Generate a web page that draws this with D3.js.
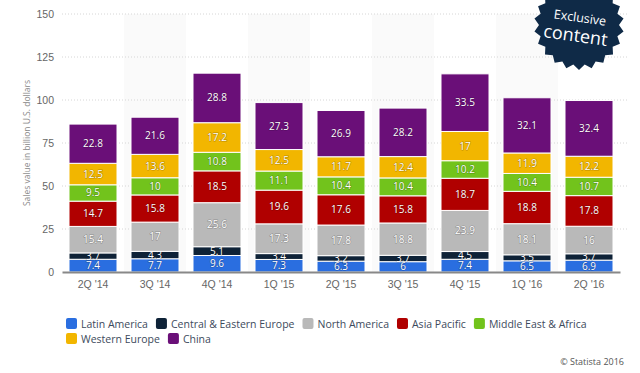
<!DOCTYPE html>
<html>
<head>
<meta charset="utf-8">
<script src="https://cdn.jsdelivr.net/npm/d3@7"></script>
<style>
    body { margin: 0; background: #fff; }
    svg { font-family: "Open Sans", "DejaVu Sans", sans-serif; }
    .tick text { fill: #666; font-size: 10.5px; }
    .seg-label { fill: #fff; font-size: 10px; text-anchor: middle; paint-order: stroke; stroke: rgba(0,0,0,0.25); stroke-width: 1.2px; }
    .legend text { fill: #3d4a5c; font-size: 10.5px; }
</style>
</head>
<body>
<script>
    var quarters = ["2Q '14", "3Q '14", "4Q '14", "1Q '15", "2Q '15", "3Q '15", "4Q '15", "1Q '16", "2Q '16"];
    var regions = ["Latin America", "Central & Eastern Europe", "North America", "Asia Pacific",
                   "Middle East & Africa", "Western Europe", "China"];
    var latinAmerica   = [7.4, 7.7, 9.6, 7.3, 6.3, 6, 7.4, 6.5, 6.9];
    var centralEastEu  = [3.7, 4.3, 5.1, 3.4, 3.2, 3.7, 4.5, 3.5, 3.7];
    var northAmerica   = [15.4, 17, 25.6, 17.3, 17.8, 18.8, 23.9, 18.1, 16];
    var asiaPacific    = [14.7, 15.8, 18.5, 19.6, 17.6, 15.8, 18.7, 18.8, 17.8];
    var middleEastAfr  = [9.5, 10, 10.8, 11.1, 10.4, 10.4, 10.2, 10.4, 10.7];
    var westernEurope  = [12.5, 13.6, 17.2, 12.5, 11.7, 12.4, 17, 11.9, 12.2];
    var china          = [22.8, 21.6, 28.8, 27.3, 26.9, 28.2, 33.5, 32.1, 32.4];
    var yTicks = [0, 25, 50, 75, 100, 125, 150];

    var series = [latinAmerica, centralEastEu, northAmerica, asiaPacific, middleEastAfr, westernEurope, china];
    var colors = ["#2a6ee0", "#0e2237", "#b9b9b9", "#b00000", "#72c31c", "#f2b600", "#6a0f78"];

    var w = 640, h = 373,
        plotL = 62, plotR = 620, plotT = 14, plotB = 272;

    // rows for d3.stack
    var rows = quarters.map(function (q, i) {
        var r = { q: q };
        regions.forEach(function (k, j) { r[k] = series[j][i]; });
        return r;
    });
    var stacked = d3.stack().keys(regions)(rows);

    var svg = d3.select("body").append("svg")
        .attr("width", w)
        .attr("height", h);

    var x = d3.scaleBand().domain(quarters).range([plotL, plotR]);
    var y = d3.scaleLinear().domain([0, 150]).range([plotB, plotT]);

    // alternating column shading
    svg.selectAll("rect.band")
        .data(quarters.filter(function (d, i) { return i % 2 === 1; }))
        .enter().append("rect")
        .attr("x", function (d) { return x(d); })
        .attr("y", plotT)
        .attr("width", x.bandwidth())
        .attr("height", plotB - plotT)
        .attr("fill", "#fafafa");

    // grid
    svg.selectAll("line.grid")
        .data(yTicks.slice(1))
        .enter().append("line")
        .attr("x1", plotL).attr("x2", 628)
        .attr("y1", function (d) { return y(d); })
        .attr("y2", function (d) { return y(d); })
        .attr("stroke", "#d6d6d6")
        .attr("stroke-dasharray", "1,2");

    // y axis
    var yAxis = svg.append("g")
        .attr("transform", "translate(" + (plotL - 8) + ",0)")
        .call(d3.axisLeft(y).tickValues(yTicks).tickSize(0).tickPadding(0));
    yAxis.select(".domain").remove();

    svg.append("text")
        .attr("transform", "translate(30," + ((plotT + plotB) / 2) + ") rotate(-90)")
        .attr("text-anchor", "middle")
        .attr("fill", "#888")
        .attr("font-size", "8.5px")
        .text("Sales value in billion U.S. dollars");

    // bars
    var barW = 48;
    var layer = svg.selectAll("g.layer")
        .data(stacked)
        .enter().append("g")
        .attr("fill", function (d, i) { return colors[i]; });

    layer.selectAll("rect")
        .data(function (d) { return d; })
        .enter().append("rect")
        .attr("x", function (d) { return x(d.data.q) + (x.bandwidth() - barW) / 2; })
        .attr("y", function (d) { return y(d[1]); })
        .attr("width", barW)
        .attr("height", function (d) { return y(d[0]) - y(d[1]); })
        .attr("stroke", "#fff")
        .attr("stroke-width", 1);

    layer.selectAll("text")
        .data(function (d) { return d.map(function (p) { p.key = d.key; return p; }); })
        .enter().append("text")
        .attr("class", "seg-label")
        .attr("x", function (d) { return x(d.data.q) + x.bandwidth() / 2; })
        .attr("y", function (d) { return (y(d[0]) + y(d[1])) / 2 + 3.5; })
        .text(function (d) { return d.data[d.key]; });

    // x axis
    var xAxis = svg.append("g")
        .attr("transform", "translate(0," + plotB + ")")
        .call(d3.axisBottom(x).tickSize(0).tickPadding(9));
    xAxis.select(".domain").attr("stroke", "#888").attr("stroke-width", 2);

    // legend: flow layout, 5 items on first row
    var legend = svg.selectAll("g.legend")
        .data(regions)
        .enter().append("g")
        .attr("class", "legend");
    legend.append("rect")
        .attr("x", 0).attr("y", -6)
        .attr("width", 11).attr("height", 11)
        .attr("rx", 2)
        .attr("fill", function (d, i) { return colors[i]; });
    legend.append("text")
        .attr("x", 15).attr("y", 4)
        .text(function (d) { return d; });
    var lx = 66, ly = 324;
    legend.each(function (d, i) {
        if (i === 5) { lx = 66; ly = 339; }
        d3.select(this).attr("transform", "translate(" + lx + "," + ly + ")");
        lx += 15 + this.querySelector("text").getComputedTextLength() + 8;
    });

    svg.append("text")
        .attr("x", 624).attr("y", 365)
        .attr("text-anchor", "end")
        .attr("fill", "#555")
        .attr("font-size", "9px")
        .text("\u00a9 Statista 2016");

    // badge
    var pts = [], n = 22, cx = 579, cy = 25;
    for (var i = 0; i < n * 2; i++) {
        var r = i % 2 === 0 ? 45 : 40;
        var a = Math.PI * i / n + Math.PI / 2;
        pts.push([cx + r * Math.cos(a), cy + r * Math.sin(a)]);
    }
    svg.append("path")
        .attr("d", d3.line()(pts) + "Z")
        .attr("fill", "#0f2a47");
    var badge = svg.append("g").attr("transform", "translate(" + cx + "," + cy + ") rotate(8)");
    badge.append("text").attr("x", 0).attr("y", -3).attr("text-anchor", "middle")
        .attr("fill", "#fff").attr("font-size", "12.5px").text("Exclusive");
    badge.append("text").attr("x", -2).attr("y", 17).attr("text-anchor", "middle")
        .attr("fill", "#fff").attr("font-size", "18px").text("content");
</script>
</body>
</html>
